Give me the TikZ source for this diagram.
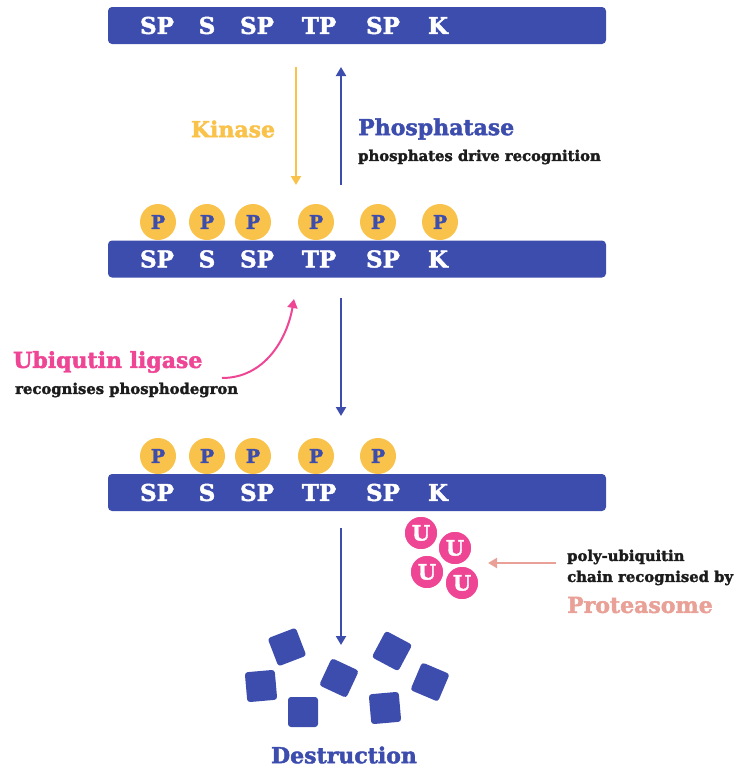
\documentclass[tikz,border=0pt]{standalone}
\usepackage{fontspec}
\setmainfont{DejaVu Serif}[BoldFeatures={FakeBold=2}]
\usetikzlibrary{positioning,arrows.meta}
\definecolor{seqblue}{HTML}{3D4DAD}
\definecolor{kinyellow}{HTML}{F9C24A}
\definecolor{ubipink}{HTML}{EE4595}
\definecolor{protsalmon}{HTML}{E9A197}
\definecolor{notegray}{HTML}{1C1C1C}
\newcommand{\fs}[1]{\bfseries\fontsize{#1}{#1}\selectfont}
\tikzset{
	bar/.style={fill=seqblue, rounded corners=4pt, minimum width=498pt, minimum height=37pt, inner sep=0pt},
	res/.style={text=white, font=\fs{23}, inner sep=0pt},
	phos/.style={circle, fill=kinyellow, minimum size=36pt, inner sep=0pt, text=seqblue, font=\fs{19}},
	ubi/.style={circle, fill=ubipink, draw=white, line width=1.5pt, minimum size=34pt, inner sep=0pt, text=white, font=\fs{21}},
	frag/.style={fill=seqblue, rounded corners=3pt, minimum size=30pt, inner sep=0pt},
	big/.style={font=\fs{22}, inner sep=0pt},
	note/.style={font=\fs{14.8}, text=notegray, inner sep=0pt},
	tip/.style={-{Triangle[width=10pt,length=9pt]}, line width=2pt}
}
\begin{document}
\begin{tikzpicture}[x=1pt,y=-1pt]
	\useasboundingbox (0,0) rectangle (736,769);
	%% sequence bars
	\node[bar] (bar1) at (357,25.5) {};
	\node[bar] (bar2) at (357,259) {};
	\node[bar] (bar3) at (357,492.5) {};
	\foreach \lab/\x [count=\i] in {SP/157,S/207,SP/257,TP/319,SP/383,K/438}{
		\node[res] (ra\i) at (\x,25.5) {\lab};
		\node[res] (rb\i) at (\x,259) {\lab};
		\node[res] (rc\i) at (\x,492.5) {\lab};
	}
	% phosphates
	\foreach \x [count=\i] in {158,207,253,316,378,440}
		\node[phos] (pb\i) at (\x,222) {P};
	\foreach \x [count=\i] in {158,207,253,316,378}
		\node[phos] (pc\i) at (\x,456) {P};
	%% kinase / phosphatase
	\coordinate (k0) at (296,67);
	\coordinate (k1) at (296,185);
	\coordinate (h0) at (341,185);
	\coordinate (h1) at (341,67);
	\draw[tip, kinyellow] (k0) -- (k1);
	\draw[tip, seqblue] (h0) -- (h1);
	\node[big, text=kinyellow] (kin) at (233,129) {Kinase};
	\node[big, text=seqblue, anchor=west] (phosph) at (358,129) {Phosphatase};
	\node[note, anchor=west] (drive) at (358,157) {phosphates drive recognition};
	%% ligase
	\coordinate (d0) at (341,298);
	\coordinate (d1) at (341,416);
	\draw[tip, seqblue] (d0) -- (d1);
	\node[big, text=ubipink, anchor=west] (lig) at (13,362) {Ubiqutin ligase};
	\node[note, anchor=west] (degron) at (15,390) {recognises phosphodegron};
	\coordinate (l0) at (222,378);
	\coordinate (l1) at (294,299);
	\draw[tip, ubipink] (l0) to[out=0, in=-100] (l1);
	%% ubiquitin chain
	\node[ubi] (u1) at (421,533) {U};
	\node[ubi] (u2) at (455,548) {U};
	\node[ubi] (u3) at (427,572) {U};
	\node[ubi] (u4) at (462,583) {U};
	\node[note, anchor=west] (poly) at (567,557) {poly-ubiquitin};
	\node[note, below=6pt of poly.south west, anchor=north west] (chain) {chain recognised by};
	\node[big, text=protsalmon, anchor=west] (prot) at (567,605) {Proteasome};
	\coordinate (s0) at (556,563);
	\coordinate (s1) at (488,563);
	\draw[tip, protsalmon] (s0) -- (s1);
	%% destruction
	\coordinate (e0) at (341,528);
	\coordinate (e1) at (341,645);
	\draw[tip, seqblue] (e0) -- (e1);
	\node[frag, rotate=21] (f1) at (287,647) {};
	\node[frag, rotate=5] (f2) at (261,686) {};
	\node[frag] (f3) at (303,712) {};
	\node[frag, rotate=-25] (f4) at (339,678) {};
	\node[frag, rotate=-28] (f5) at (392,651) {};
	\node[frag, rotate=-23] (f6) at (430,682) {};
	\node[frag, rotate=5] (f7) at (385,708) {};
	\node[big, text=seqblue] (dest) at (344,755) {Destruction};
\end{tikzpicture}
\end{document}
